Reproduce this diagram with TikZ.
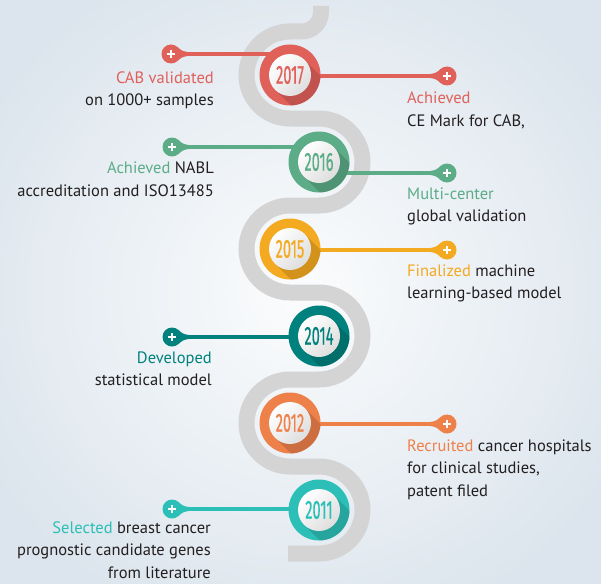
\documentclass[tikz,border=0pt]{standalone}
\usepackage{fontspec}
\setmainfont{PT Sans}
\newfontfamily\yearfont[FakeBold=0.7]{Fira Sans}
\usetikzlibrary{calc}
\definecolor{cred}{RGB}{224,96,90}
\definecolor{cgreen}{RGB}{91,172,135}
\definecolor{cyel}{RGB}{243,169,32}
\definecolor{cteal}{RGB}{0,129,125}
\definecolor{corange}{RGB}{238,128,74}
\definecolor{ccyan}{RGB}{43,191,183}
\definecolor{bandgray}{RGB}{212,212,212}
\definecolor{ink}{RGB}{35,31,32}
\definecolor{bgin}{RGB}{251,252,253}
\definecolor{bgout}{RGB}{220,229,237}
\tikzset{
  x=1pt, y=1pt,
  ring/.style={circle, fill=#1, minimum size=61, inner sep=0},
  yeartxt/.style={inner sep=0, font=\yearfont\fontsize{26}{26}\selectfont},
  pin/.style={circle, fill=#1, minimum size=19, inner sep=0,
    path picture={\draw[white, line width=2.2]
      (path picture bounding box.center) ++(-3.6,0) -- ++(7.2,0)
      (path picture bounding box.center) ++(0,-3.6) -- ++(0,7.2);}},
  conn/.style={draw=#1, line width=3.5},
  band/.style={draw=bandgray, line width=16, line cap=butt},
  txt/.style={inner sep=0, text=ink, font=\fontsize{16.5}{22.5}\selectfont},
  txtl/.style={txt, anchor=base east, align=right},
  txtr/.style={txt, anchor=base west, align=left},
}
\newcommand\pintail[3]{%
  \begin{scope}[shift={(#1.center)}, xscale=#2]
    \fill[#3] (50:9.5) .. controls (11,3) .. (18,1.75) -- (18,-1.75)
      .. controls (11,-3) .. (-50:9.5) -- cycle;
  \end{scope}}
\newcommand\yearring[4]{%
  \node[ring=#3] (#1) at (#2) {};
  \begin{scope}
    \clip (#1.center) circle (30.5);
    \fill[#3!70!black, opacity=.45] ($(#1.center)+(45:21)$) -- ($(#1.center)+(-135:21)$)
      -- ++(-45:60) -- ++(45:42) -- cycle;
  \end{scope}
  \shade[top color=white, bottom color=black!13, shading angle=45] (#1.center) circle (21);
  \node[yeartxt, text=#3] (#1t) at (#1.center) {\scalebox{0.56}[1]{#4}};
}
\begin{document}
\begin{tikzpicture}
\useasboundingbox (0,0) rectangle (601,-583);
\shade[inner color=bgin, outer color=bgout] (-60,60) rectangle (661,-643);

% winding band
\draw[band] (321,-6) -- (321,-12) arc[start angle=0, end angle=-90, radius=19.5]
  -- (290,-31.5) arc[start angle=90, end angle=270, radius=43.5]
  -- (319,-118.5) arc[start angle=90, end angle=-90, radius=43.5]
  -- (290,-205.5) arc[start angle=90, end angle=270, radius=43.5]
  -- (319,-292.5) arc[start angle=90, end angle=-90, radius=43.5]
  -- (290,-379.5) arc[start angle=90, end angle=270, radius=43.5]
  -- (319,-466.5) arc[start angle=90, end angle=-90, radius=43.5]
  -- (288,-553.5);

% circle centres
\coordinate (c17) at (290,-75);
\coordinate (c16) at (319,-162);
\coordinate (c15) at (290,-249);
\coordinate (c14) at (319,-336);
\coordinate (c12) at (290,-423);
\coordinate (c11) at (319,-510);

% pins
\node[pin=cred]    (m17l) at (171,-54)  {};
\node[pin=cred]    (m17r) at (447,-76)  {};
\node[pin=cgreen]  (m16l) at (172,-147) {};
\node[pin=cgreen]  (m16r) at (447,-173) {};
\node[pin=cyel]    (m15r) at (447,-250) {};
\node[pin=cteal]   (m14l) at (172,-337) {};
\node[pin=corange] (m12r) at (447,-424) {};
\node[pin=ccyan]   (m11l) at (172,-509) {};
\pintail{m17l}{1}{cred}
\pintail{m17r}{-1}{cred}
\pintail{m16l}{1}{cgreen}
\pintail{m16r}{-1}{cgreen}
\pintail{m15r}{-1}{cyel}
\pintail{m14l}{1}{cteal}
\pintail{m12r}{-1}{corange}
\pintail{m11l}{1}{ccyan}

% connectors
\draw[conn=cred]    (m17l) -- (m17l -| c17);
\draw[conn=cred]    (m17r) -- (m17r -| c17);
\draw[conn=cgreen]  (m16l) -- (m16l -| c16);
\draw[conn=cgreen]  (m16r) -- (m16r -| c16);
\draw[conn=cyel]    (m15r) -- (m15r -| c15);
\draw[conn=cteal]   (m14l) -- (m14l -| c14);
\draw[conn=corange] (m12r) -- (m12r -| c12);
\draw[conn=ccyan]   (m11l) -- (m11l -| c11);

% year rings
\yearring{y2017}{c17}{cred}{2017}
\yearring{y2016}{c16}{cgreen}{2016}
\yearring{y2015}{c15}{cyel}{2015}
\yearring{y2014}{c14}{cteal}{2014}
\yearring{y2012}{c12}{corange}{2012}
\yearring{y2011}{c11}{ccyan}{2011}

% texts (anchor = baseline of the last line)
\node[txtl] (t17l) at (214,-106) {\textcolor{cred}{CAB validated}\\on 1000+ samples};
\node[txtr] (t17r) at (407,-126) {\textcolor{cred}{Achieved}\\CE Mark for CAB,};
\node[txtl] (t16l) at (214,-196) {\textcolor{cgreen}{Achieved} NABL\\accreditation and ISO13485};
\node[txtr] (t16r) at (407,-221.5) {\textcolor{cgreen}{Multi-center}\\global validation};
\node[txtr] (t15r) at (407,-298.5) {\textcolor{cyel}{Finalized} machine\\learning-based model};
\node[txtl] (t14l) at (212,-385.5) {\textcolor{cteal}{Developed}\\statistical model};
\node[txtr] (t12r) at (407,-496) {\textcolor{corange}{Recruited} cancer hospitals\\for clinical studies,\\patent filed};
\node[txtl] (t11l) at (211,-578) {\textcolor{ccyan}{Selected} breast cancer\\prognostic candidate genes\\from literature};
\end{tikzpicture}
\end{document}
